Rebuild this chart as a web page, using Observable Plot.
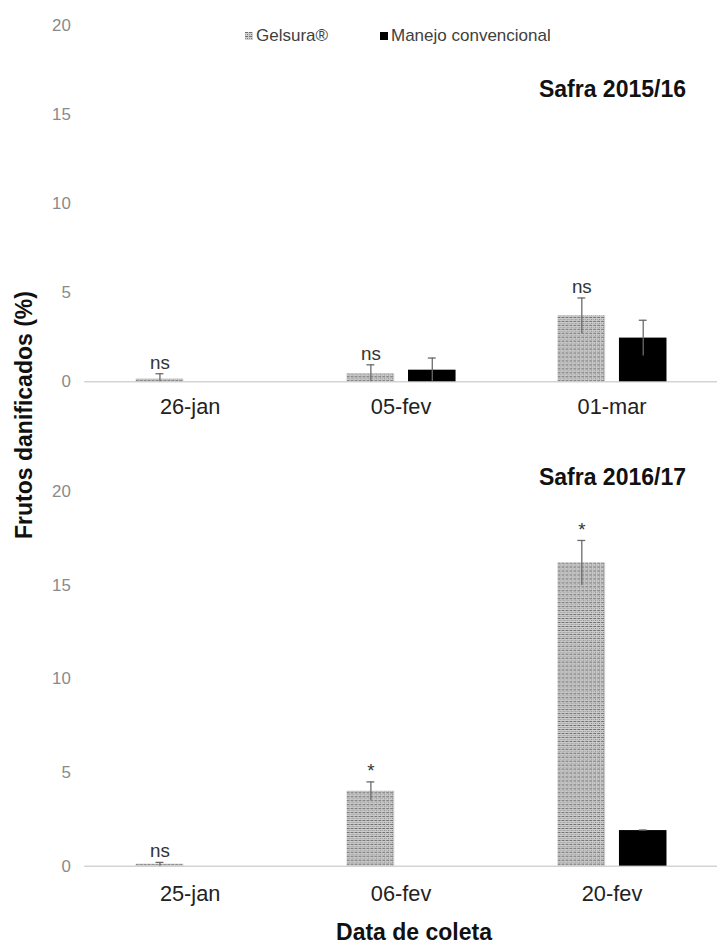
<!DOCTYPE html>
<html>
<head>
<meta charset="utf-8">
<script src="https://cdn.jsdelivr.net/npm/d3@7"></script>
<script src="https://cdn.jsdelivr.net/npm/@observablehq/plot@0.6"></script>
<style>
  body { margin: 0; background: #fff; }
  #wrap { position: relative; width: 717px; height: 947px; overflow: hidden; background: #fff; font-family: "Liberation Sans", Arial, sans-serif; }
  .abs { position: absolute; white-space: nowrap; }
  .ttl { font-weight: bold; font-size: 23px; color: #111; }
  .leg { font-size: 17px; color: #404040; display: flex; align-items: center; }
  .sw { display: inline-block; width: 8px; height: 8px; margin-right: 3px; }
</style>
</head>
<body>
<svg width="0" height="0" style="position:absolute">
  <defs>
    <pattern id="gelPat" width="4" height="4" patternUnits="userSpaceOnUse">
      <rect width="4" height="4" fill="#cfcfcf"></rect>
      <rect x="0" y="0" width="3" height="1" fill="#6e6e6e"></rect>
      <rect x="2" y="2" width="1" height="1" fill="#7a7a7a"></rect>
      <rect x="0" y="2" width="1" height="1" fill="#9a9a9a"></rect>
    </pattern>
  </defs>
</svg>
<div id="wrap">
  <div id="p1" class="abs" style="left:0;top:0"></div>
  <div id="p2" class="abs" style="left:0;top:420px"></div>
  <div class="abs leg" style="left:245px;top:26px"><svg class="sw" width="8" height="8"><rect width="8" height="8" fill="url(#gelPat)"></rect></svg>Gelsura®</div>
  <div class="abs leg" style="left:380px;top:26px"><span class="sw" style="background:#000"></span>Manejo convencional</div>
  <div class="abs ttl" style="right:31px;top:76px">Safra 2015/16</div>
  <div class="abs ttl" style="right:31px;top:464px">Safra 2016/17</div>
  <div class="abs ttl" style="left:24px;top:415px;transform:translate(-50%,-50%) rotate(-90deg)">Frutos danificados (%)</div>
  <div class="abs ttl" style="left:414px;top:932px;transform:translate(-50%,-50%)">Data de coleta</div>
</div>
<script>
const series = ["Gelsura®", "Manejo convencional"];
const yTicks = [0, 5, 10, 15, 20];

const dates1 = ["26-jan", "05-fev", "01-mar"];
const gelsura1 = [0.15, 0.45, 3.7];
const gelsuraErr1 = [0.3, 0.5, 1.0];
const manejo1 = [0, 0.65, 2.45];
const manejoErr1 = [0, 0.68, 1.0];
const signif1 = ["ns", "ns", "ns"];

const dates2 = ["25-jan", "06-fev", "20-fev"];
const gelsura2 = [0.1, 4.0, 16.2];
const gelsuraErr2 = [0.1, 0.5, 1.2];
const manejo2 = [0, 0, 1.9];
const manejoErr2 = [0, 0, 0.03];
const signif2 = ["ns", "*", "*"];

function rows(dates, g, ge, m, me, sig) {
  return dates.flatMap((d, i) => [
    {date: d, series: series[0], value: g[i], err: ge[i], sig: sig[i]},
    {date: d, series: series[1], value: m[i], err: me[i], sig: ""}
  ]);
}

function panel(dates, data, height, marginTop, marginBottom, tickPad) {
  const gel = data.filter(d => d.series === series[0]);
  const man = data.filter(d => d.series === series[1] && d.value > 0);
  const errs = data.filter(d => d.err > 0);
  return Plot.plot({
    width: 724,
    height,
    marginLeft: 84,
    marginRight: 0,
    marginTop,
    marginBottom,
    style: {fontFamily: "'Liberation Sans', Arial, sans-serif", background: "transparent"},
    fx: {domain: dates, padding: 0},
    x: {domain: series, axis: null, paddingInner: 0.226, paddingOuter: 0.83},
    y: {domain: [0, 20]},
    marks: [
      Plot.axisY({ticks: yTicks, tickSize: 0, tickPadding: 14, fontSize: 17, color: "#8a8a8a", label: null}),
      Plot.axisFx({anchor: "bottom", tickSize: 0, tickPadding: tickPad, fontSize: 22, color: "#222", label: null}),
      Plot.ruleY([0], {stroke: "#d4d4d4", strokeWidth: 1.5}),
      Plot.barY(gel, {fx: "date", x: "series", y: "value", fill: "url(#gelPat)"}),
      Plot.barY(man, {fx: "date", x: "series", y: "value", fill: "#000"}),
      Plot.ruleX(errs, {fx: "date", x: "series", y1: d => Math.max(0, d.value - d.err), y2: d => d.value + d.err, stroke: "#6a6a6a", strokeWidth: 1.3}),
      Plot.tickY(errs, {fx: "date", x: "series", y: d => d.value + d.err, insetLeft: 20, insetRight: 20, stroke: "#6a6a6a", strokeWidth: 1.3}),
      Plot.text(gel, {fx: "date", x: "series", y: d => d.value + d.err, text: "sig", dy: -5, lineAnchor: "bottom", fontSize: 19, fill: "#333"})
    ]
  });
}

document.getElementById("p1").appendChild(
  panel(dates1, rows(dates1, gelsura1, gelsuraErr1, manejo1, manejoErr1, signif1), 440, 25, 55, 17)
);
document.getElementById("p2").appendChild(
  panel(dates2, rows(dates2, gelsura2, gelsuraErr2, manejo2, manejoErr2, signif2), 527, 72, 77, 20)
);
</script>
</body>
</html>
